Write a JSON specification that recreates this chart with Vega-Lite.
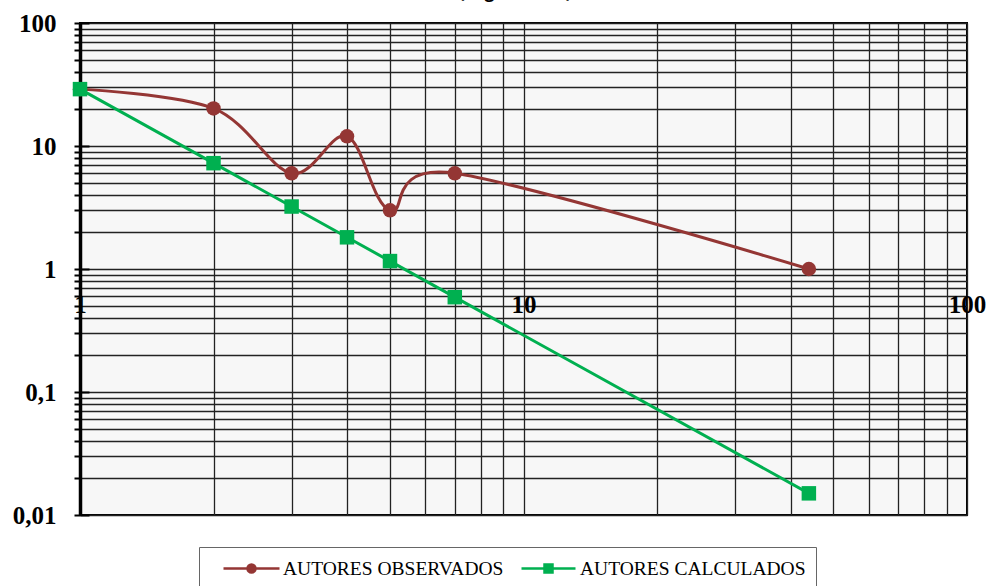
{
  "$schema": "https://vega.github.io/schema/vega-lite/v6.json",
  "width": 887,
  "height": 492,
  "autosize": "none",
  "padding": {"left": 80, "top": 23, "right": 21, "bottom": 71},
  "background": "white",
  "title": {"text": "Gráfica (Logarítmica)", "font": "Open Sans", "fontSize": 17, "fontWeight": "bold", "color": "#000", "anchor": "middle", "offset": 0, "dy": 4, "baseline": "alphabetic", "dx": -41, "frame": "group"},
  "config": {
    "view": {"fill": "#F7F7F7", "stroke": "#000", "strokeWidth": 2}
  },
  "data": {
    "values": [
      {"x": 1, "y": 29, "series": "AUTORES OBSERVADOS"},
      {"x": 2, "y": 20.2, "series": "AUTORES OBSERVADOS"},
      {"x": 3, "y": 6, "series": "AUTORES OBSERVADOS"},
      {"x": 4, "y": 12, "series": "AUTORES OBSERVADOS"},
      {"x": 5, "y": 3, "series": "AUTORES OBSERVADOS"},
      {"x": 7, "y": 6, "series": "AUTORES OBSERVADOS"},
      {"x": 44, "y": 1, "series": "AUTORES OBSERVADOS"},
      {"x": 1, "y": 29, "series": "AUTORES CALCULADOS"},
      {"x": 2, "y": 7.25, "series": "AUTORES CALCULADOS"},
      {"x": 3, "y": 3.22, "series": "AUTORES CALCULADOS"},
      {"x": 4, "y": 1.81, "series": "AUTORES CALCULADOS"},
      {"x": 5, "y": 1.16, "series": "AUTORES CALCULADOS"},
      {"x": 7, "y": 0.59, "series": "AUTORES CALCULADOS"},
      {"x": 44, "y": 0.015, "series": "AUTORES CALCULADOS"}
    ]
  },
  "layer": [
    {
      "transform": [{"filter": "datum.series === 'AUTORES OBSERVADOS'"}],
      "mark": {"type": "line", "interpolate": "cardinal", "strokeWidth": 3},
      "encoding": {
        "x": {"field": "x", "type": "quantitative", "scale": {"type": "log", "domain": [1, 100], "nice": false},
          "axis": {"orient": "bottom", "values": [1,2,3,4,5,6,7,8,9,10,20,30,40,50,60,70,80,90,100], "grid": true, "labels": false, "ticks": false, "domain": false, "gridColor": "#222", "gridWidth": 1.3, "gridOpacity": 1, "title": null}},
        "y": {"field": "y", "type": "quantitative", "scale": {"type": "log", "domain": [0.01, 100], "nice": false},
          "axis": {"orient": "left", "values": [0.01,0.02,0.03,0.04,0.05,0.06,0.07,0.08,0.09,0.1,0.2,0.3,0.4,0.5,0.6,0.7,0.8,0.9,1,2,3,4,5,6,7,8,9,10,20,30,40,50,60,70,80,90,100],
            "grid": true, "gridColor": "#222", "gridWidth": 1.3, "gridOpacity": 1,
            "domain": true, "domainColor": "#000", "domainWidth": 3.5,
            "ticks": true, "tickColor": "#000", "tickWidth": 2, "tickSize": 6,
            "labelExpr": "datum.value == 100 ? '100' : datum.value == 10 ? '10' : datum.value == 1 ? '1' : datum.value == 0.1 ? '0,1' : datum.value == 0.01 ? '0,01' : ''",
            "labelFont": "Liberation Serif", "labelFontSize": 25, "labelFontWeight": "bold", "labelColor": "#000", "labelPadding": 18,
            "labelOverlap": false, "labelBound": false, "labelFlush": false, "title": null}},
        "color": {"field": "series", "type": "nominal", "scale": {"domain": ["AUTORES OBSERVADOS", "AUTORES CALCULADOS"], "range": ["#943634", "#00B050"]},
          "legend": {
            "orient": "none", "legendX": 119, "legendY": 524, "direction": "horizontal", "title": null,
            "strokeColor": "#666", "fillColor": "#fff", "padding": 10,
            "labelFont": "Liberation Serif", "labelFontSize": 19.5, "labelColor": "#000", "labelLimit": 0,
            "symbolSize": 400, "symbolOffset": 31, "labelOffset": 20, "columnPadding": 2, "symbolStrokeWidth": 2.5}}
      }
    },
    {
      "transform": [{"filter": "datum.series === 'AUTORES CALCULADOS'"}],
      "mark": {"type": "line", "strokeWidth": 3},
      "encoding": {
        "x": {"field": "x", "type": "quantitative", "axis": null},
        "y": {"field": "y", "type": "quantitative", "axis": null},
        "color": {"field": "series", "type": "nominal"}
      }
    },
    {
      "transform": [{"filter": "datum.series === 'AUTORES OBSERVADOS'"}],
      "mark": {"type": "point", "filled": true, "opacity": 1, "size": 210, "shape": "circle"},
      "encoding": {
        "x": {"field": "x", "type": "quantitative",
          "axis": {"orient": "bottom", "values": [1, 10, 100], "grid": false, "ticks": false, "domain": false, "offset": -246, "labelPadding": 35, "labelBaseline": "middle",
            "labelExpr": "datum.value == 1 ? '1' : datum.value == 10 ? '10' : '100'",
            "labelFont": "Liberation Serif", "labelFontSize": 25, "labelFontWeight": "bold", "labelColor": "#000",
            "labelFlush": false, "labelOverlap": false, "labelBound": false, "title": null}},
        "y": {"field": "y", "type": "quantitative",
          "axis": {"orient": "left", "values": [0.01, 0.1, 1, 10, 100], "grid": false, "labels": false, "domain": false, "ticks": true, "tickSize": -9, "tickWidth": 2, "tickColor": "#000", "title": null}},
        "color": {"field": "series", "type": "nominal"}
      }
    },
    {
      "transform": [{"filter": "datum.series === 'AUTORES CALCULADOS'"}],
      "mark": {"type": "point", "filled": true, "opacity": 1, "size": 210, "shape": "square"},
      "encoding": {
        "x": {"field": "x", "type": "quantitative", "axis": null},
        "y": {"field": "y", "type": "quantitative", "axis": null},
        "color": {"field": "series", "type": "nominal"}
      }
    },
    {
      "transform": [{"filter": "datum.x > 1000"}],
      "mark": {"type": "point", "filled": true, "opacity": 1, "strokeWidth": 2.5},
      "encoding": {
        "x": {"field": "x", "type": "quantitative", "axis": null},
        "y": {"field": "y", "type": "quantitative", "axis": null},
        "color": {"field": "series", "type": "nominal"},
        "stroke": {"field": "series", "type": "nominal", "scale": {"domain": ["AUTORES OBSERVADOS", "AUTORES CALCULADOS"], "range": ["#943634", "#00B050"]}},
        "shape": {"field": "series", "type": "nominal", "scale": {"domain": ["AUTORES OBSERVADOS", "AUTORES CALCULADOS"], "range": ["M-2.8,0H2.8M0.4,0A0.4,0.4,0,1,1,-0.4,0A0.4,0.4,0,1,1,0.4,0Z", "M-2.7,0H2.7M-0.4,-0.4H0.4V0.4H-0.4Z"]}}
      }
    }
  ],
  "resolve": {"axis": {"x": "independent", "y": "independent"}}
}
